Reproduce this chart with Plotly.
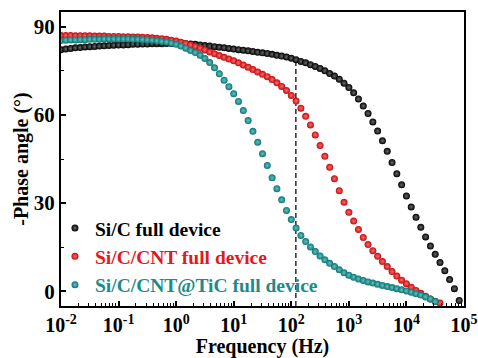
import numpy as np
import plotly.graph_objects as go

# ---- data ----
POINTS_PER_DECADE = 12
F_START_EXP = -2  # 0.01 Hz

series_names = ["Si/C full device", "Si/C/CNT full device", "Si/C/CNT@TiC full device"]
series_colors = ["#000000", "#e3191c", "#1d8b8b"]      # text / nominal colours
series_edge = ["#000000", "#c40c10", "#0f7373"]        # ball rim
series_glow = ["#6a6a6a", "#ff6a6a", "#5fc4c4"]        # ball centre

phase_sic = [
    82.2, 82.4, 82.6, 82.8, 82.9, 83.1, 83.2, 83.3, 83.4, 83.5, 83.6, 83.7,
    83.8, 83.8, 83.9, 84.0, 84.0, 84.1, 84.1, 84.2, 84.2, 84.2, 84.3, 84.3,
    84.3, 84.3, 84.2, 84.1, 84.0, 83.8, 83.6, 83.4, 83.2, 83.0, 82.8, 82.6,
    82.4, 82.2, 82.0, 81.8, 81.6, 81.3, 81.1, 80.9, 80.6, 80.3, 80.0, 79.7,
    79.3, 78.8, 78.2, 77.7, 77.1, 76.5, 75.8, 75.0, 74.1, 73.2, 72.1, 70.8,
    69.3, 67.5, 65.4, 63.0, 60.5, 57.6, 54.5, 51.2, 47.6, 43.8, 40.0, 36.2,
    32.4, 28.7, 25.2, 21.8, 18.5, 15.4, 12.6, 9.8, 7.0, 4.0, 0.9, -3.1,
]

phase_sic_cnt = [
    87.0, 87.0, 87.0, 86.9, 86.9, 86.9, 86.9, 86.8, 86.8, 86.8, 86.7, 86.7,
    86.7, 86.6, 86.6, 86.5, 86.5, 86.4, 86.3, 86.2, 86.1, 85.9, 85.7, 85.4,
    85.1, 84.7, 84.3, 83.8, 83.3, 82.7, 82.1, 81.4, 80.8, 80.2, 79.6, 79.0,
    78.4, 77.7, 77.0, 76.2, 75.4, 74.6, 73.8, 73.0, 72.0, 70.9, 69.7, 68.3,
    66.6, 64.7, 62.3, 59.5, 56.6, 53.2, 49.6, 45.9, 42.2, 38.3, 34.2, 30.3,
    26.9, 23.9, 21.0, 18.3, 15.9, 13.8, 11.9, 10.1, 8.4, 6.7, 5.2, 3.8,
    2.6, 1.4, 0.3, -0.7, -1.7, -2.6, -3.4, -4.0,
]

phase_sic_cnt_tic = [
    85.3, 85.4, 85.5, 85.5, 85.6, 85.6, 85.7, 85.7, 85.7, 85.8, 85.8, 85.8,
    85.8, 85.8, 85.8, 85.7, 85.7, 85.6, 85.5, 85.4, 85.2, 85.0, 84.8, 84.4,
    84.0, 83.4, 82.7, 81.9, 81.2, 80.3, 79.2, 77.8, 76.0, 74.0, 71.8, 69.6,
    67.2, 64.6, 61.5, 58.1, 54.4, 50.7, 46.8, 42.8, 38.6, 34.9, 31.1, 27.5,
    24.4, 21.5, 19.0, 16.9, 15.1, 13.5, 12.0, 10.7, 9.5, 8.4, 7.3, 6.3,
    5.5, 4.8, 4.2, 3.7, 3.2, 2.8, 2.4, 2.0, 1.6, 1.3, 0.9, 0.5,
    0.1, -0.3, -0.8, -1.3, -1.9, -2.6, -3.5,
]

all_phases = [phase_sic, phase_sic_cnt, phase_sic_cnt_tic]

# guide line at 120 Hz
guide_freq = 120
guide_bottom = -5
guide_top = 78

x_tick_vals = [1e-2, 1e-1, 1e0, 1e1, 1e2, 1e3, 1e4, 1e5]
x_tick_text = ["10<sup>-2</sup>", "10<sup>-1</sup>", "10<sup>0</sup>", "10<sup>1</sup>",
               "10<sup>2</sup>", "10<sup>3</sup>", "10<sup>4</sup>", "10<sup>5</sup>"]
y_tick_vals = [0, 30, 60, 90]

FONT = "'Liberation Serif', 'Times New Roman', serif"

fig = go.Figure()

fig.add_trace(go.Scatter(
    x=[guide_freq, guide_freq], y=[guide_bottom, guide_top], mode="lines",
    line=dict(color="#3a3a3a", width=1.6, dash="5px,3px"), showlegend=False,
    hoverinfo="skip"))

for name, col, edge, glow, ph in zip(series_names, series_colors, series_edge,
                                     series_glow, all_phases):
    freqs = 10 ** (F_START_EXP + np.arange(len(ph)) / POINTS_PER_DECADE)
    fig.add_trace(go.Scatter(
        x=freqs, y=ph, mode="markers",
        name=f"<span style='color:{col}'><b>{name}</b></span>",
        marker=dict(size=7, color=edge, line=dict(width=0),
                    gradient=dict(type="radial", color=glow)),
    ))

fig.update_layout(
    width=478, height=358,
    margin=dict(l=61, r=14, t=12, b=52, autoexpand=False),
    paper_bgcolor="white", plot_bgcolor="white",
    font=dict(family=FONT, size=19, color="black"),
    legend=dict(x=-0.015, y=0.004, xanchor="left", yanchor="bottom",
                bgcolor="rgba(0,0,0,0)", borderwidth=0,
                font=dict(family=FONT, size=19.5),
                itemsizing="trace", tracegroupgap=0),
    showlegend=True,
)

fig.update_xaxes(
    type="log", range=[-2, 5], automargin=False,
    tickvals=x_tick_vals, ticktext=x_tick_text, ticklabeloverflow="allow",
    tickfont=dict(family=FONT, size=20, color="black", weight="bold"),
    ticks="inside", ticklen=5, tickwidth=1.5, tickcolor="black",
    minor=dict(ticks="inside", ticklen=3, tickwidth=1, tickcolor="black", dtick="D1"),
    showline=True, linewidth=2, linecolor="black", mirror=True,
    showgrid=False, zeroline=False,
    title=dict(text="<b>Frequency (Hz)</b>", font=dict(family=FONT, size=20), standoff=4),
)
fig.update_yaxes(
    range=[-5, 95], automargin=False,
    tickvals=y_tick_vals, ticklabeloverflow="allow",
    tickfont=dict(family=FONT, size=21, color="black", weight="bold"),
    ticks="inside", ticklen=5, tickwidth=1.5, tickcolor="black",
    minor=dict(ticks="inside", ticklen=3, tickwidth=1, tickcolor="black", dtick=15, tick0=15),
    showline=True, linewidth=2, linecolor="black", mirror=True,
    showgrid=False, zeroline=False,
    title=dict(text="<b>-Phase angle (°)</b>", font=dict(family=FONT, size=20), standoff=0),
)

fig.write_html("out.html")
